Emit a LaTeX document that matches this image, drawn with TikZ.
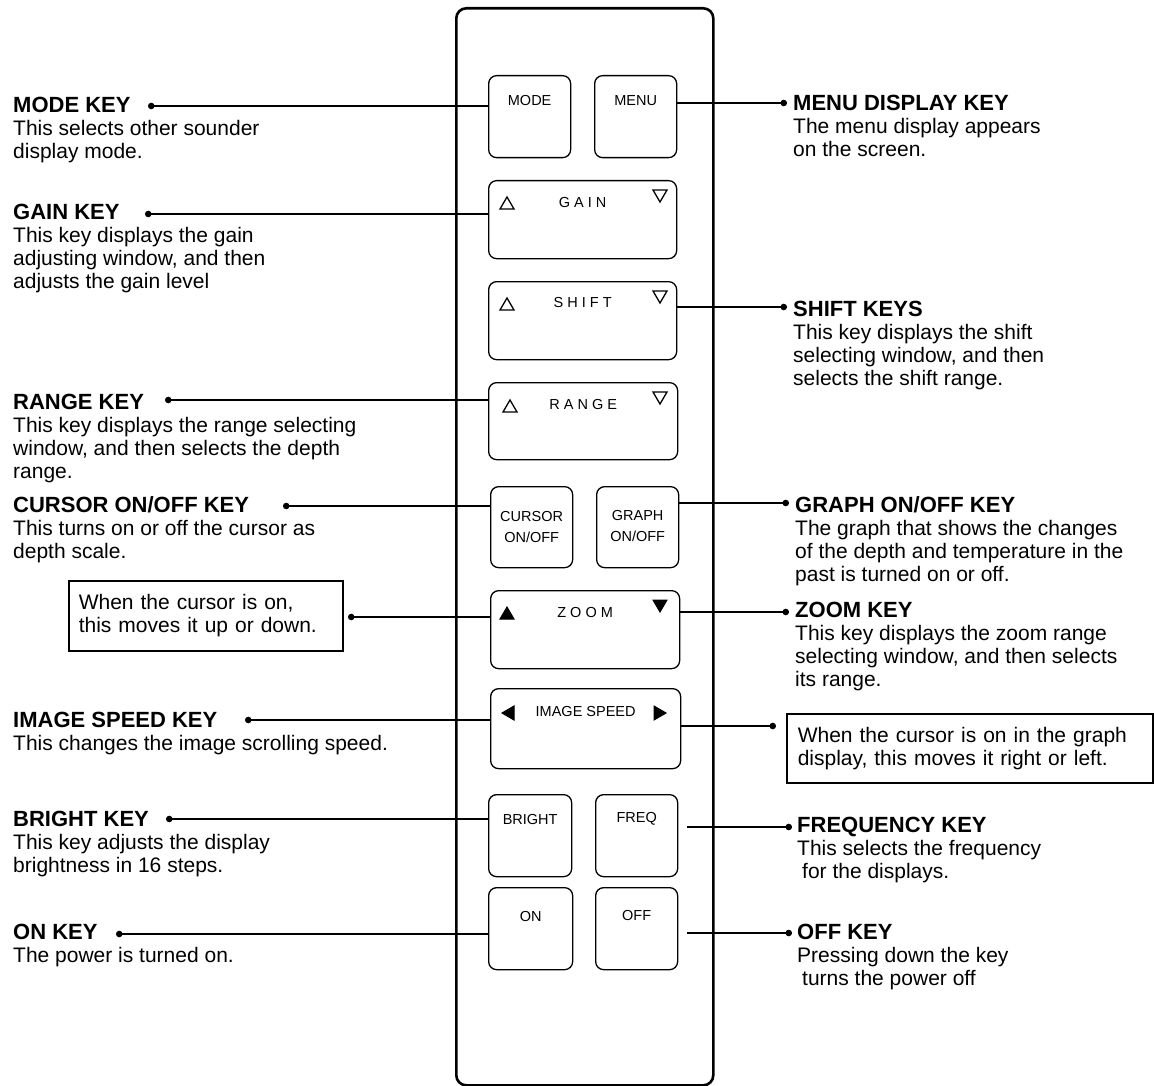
\documentclass[tikz,border=0pt]{standalone}
\usepackage{fontspec}
\setmainfont{Liberation Sans}
\usetikzlibrary{arrows.meta}

\newcommand\hd[1]{{\fontsize{22}{23}\selectfont\bfseries #1}}

\tikzset{
	pad/.style={draw, rounded corners=8pt, line width=1.3pt, anchor=north west, inner sep=0pt},
	keylbl/.style={font=\fontsize{14.5}{21}\selectfont, inner sep=0pt, align=center},
	note/.style={anchor=north west, align=left, inner sep=0pt, font=\fontsize{21}{23}\selectfont},
	hint/.style={draw, line width=1.5pt, anchor=north west, inner ysep=0pt, align=left, font=\fontsize{21}{23}\selectfont},
	lead/.style={line width=1.3pt, {Circle[length=6.5pt,width=6.5pt]}-},
	leadr/.style={line width=1.3pt, -{Circle[length=6.5pt,width=6.5pt]}},
	tri/.pic={\draw[line width=1.3pt] (-7,6) -- (7,6) -- (0,-6) -- cycle;},
	trif/.pic={\filldraw[line width=1pt] (-7,6) -- (7,6) -- (0,-6) -- cycle;}
}

\begin{document}
\begin{tikzpicture}[x=1pt, y=-1pt]
	\useasboundingbox (0,0) rectangle (1154,1086);

	\node[draw, rounded corners=10pt, line width=2.6pt, anchor=north west, inner sep=0pt, minimum width=257pt, minimum height=1077pt] (remote) at (455,7) {};

	\node[pad, minimum width=82pt, minimum height=82pt] (mode) at (488,75) {};
	\node[pad, minimum width=82pt, minimum height=82pt] (menu) at (594,75) {};
	\node[pad, minimum width=188pt, minimum height=78pt] (gain) at (488,180) {};
	\node[pad, minimum width=188pt, minimum height=78pt] (shift) at (488,281) {};
	\node[pad, minimum width=189pt, minimum height=77pt] (range) at (488,382) {};
	\node[pad, minimum width=82pt, minimum height=81pt] (cursor) at (490,486) {};
	\node[pad, minimum width=82pt, minimum height=81pt] (graph) at (596,486) {};
	\node[pad, minimum width=189pt, minimum height=78pt] (zoom) at (490,590) {};
	\node[pad, minimum width=190pt, minimum height=80pt] (imgspd) at (490,688) {};
	\node[pad, minimum width=83pt, minimum height=82pt] (bright) at (488,794) {};
	\node[pad, minimum width=82pt, minimum height=82pt] (freq) at (595,794) {};
	\node[pad, minimum width=84pt, minimum height=82pt] (on) at (488,887) {};
	\node[pad, minimum width=82pt, minimum height=82pt] (off) at (595,887) {};

	\node[keylbl] (modelbl) at ([yshift=-26pt]mode.north) {MODE};
	\node[keylbl] (menulbl) at ([yshift=-26pt]menu.north) {MENU};
	\node[keylbl] (gainlbl) at ([yshift=-23pt]gain.north) {G A I N};
	\node[keylbl] (shiftlbl) at ([yshift=-22pt]shift.north) {S H I F T};
	\node[keylbl] (rangelbl) at ([yshift=-23pt]range.north) {R A N G E};
	\node[keylbl] (cursorlbl) at ([yshift=-41pt]cursor.north) {CURSOR\\ON/OFF};
	\node[keylbl] (graphlbl) at ([yshift=-40pt]graph.north) {GRAPH\\ON/OFF};
	\node[keylbl] (zoomlbl) at ([yshift=-23pt]zoom.north) {Z O O M};
	\node[keylbl] (imgspdlbl) at ([yshift=-24pt]imgspd.north) {IMAGE SPEED};
	\node[keylbl] (brightlbl) at ([yshift=-26pt]bright.north) {BRIGHT};
	\node[keylbl] (freqlbl) at ([yshift=-25pt]freq.north) {FREQ};
	\node[keylbl] (onlbl) at ([yshift=-30pt]on.north) {ON};
	\node[keylbl] (offlbl) at ([yshift=-29pt]off.north) {OFF};

	\pic at ([shift={(19,23)}]gain.north west) {tri};
	\pic[rotate=180] at ([shift={(172,16)}]gain.north west) {tri};
	\pic at ([shift={(19,23)}]shift.north west) {tri};
	\pic[rotate=180] at ([shift={(172,16)}]shift.north west) {tri};
	\pic at ([shift={(22,24)}]range.north west) {tri};
	\pic[rotate=180] at ([shift={(172,16)}]range.north west) {tri};
	\pic at ([shift={(17,23)}]zoom.north west) {trif};
	\pic[rotate=180] at ([shift={(170,16)}]zoom.north west) {trif};
	\pic[rotate=90] at ([shift={(18,25)}]imgspd.north west) {trif};
	\pic[rotate=-90] at ([shift={(170,25)}]imgspd.north west) {trif};

	\node[note] (modetxt) at (13,97) {\hd{MODE KEY}\\This selects other sounder\\display mode.};
	\node[note] (gaintxt) at (13,204) {\hd{GAIN KEY}\\This key displays the gain\\adjusting window, and then\\adjusts the gain level};
	\node[note] (rangetxt) at (13,394) {\hd{RANGE KEY}\\This key displays the range selecting\\window, and then selects the depth\\range.};
	\node[note] (cursortxt) at (13,496) {\hd{CURSOR ON/OFF KEY}\\This turns on or off the cursor as\\depth scale.};
	\node[hint, inner xsep=10pt, text width=254pt, minimum height=70pt] (updown) at (68,580) {When the cursor is on,\\this moves it up or down.};
	\node[note] (imgtxt) at (13,712) {\hd{IMAGE SPEED KEY}\\This changes the image scrolling speed.};
	\node[note] (brighttxt) at (13,811) {\hd{BRIGHT KEY}\\This key adjusts the display\\brightness in 16 steps.};
	\node[note] (ontxt) at (13,924) {\hd{ON KEY}\\The power is turned on.};

	\node[note] (menutxt) at (793,95) {\hd{MENU DISPLAY KEY}\\The menu display appears\\on the screen.};
	\node[note] (shifttxt) at (793,301) {\hd{SHIFT KEYS}\\This key displays the shift\\selecting window, and then\\selects the shift range.};
	\node[note] (graphtxt) at (795,496) {\hd{GRAPH ON/OFF KEY}\\The graph that shows the changes\\of the depth and temperature in the\\past is turned on or off.};
	\node[note] (zoomtxt) at (795,602) {\hd{ZOOM KEY}\\This key displays the zoom range\\selecting window, and then selects\\its range.};
	\node[hint, inner xsep=11pt, text width=344pt, minimum height=69pt] (leftright) at (786,713) {When the cursor is on in the graph\\display, this moves it right or left.};
	\node[note] (freqtxt) at (797,817) {\hd{FREQUENCY KEY}\\This selects the frequency\\\hspace*{5pt}for the displays.};
	\node[note] (offtxt) at (797,924) {\hd{OFF KEY}\\Pressing down the key\\\hspace*{5pt}turns the power off};

	\coordinate (modedot) at (148,106);
	\coordinate (gaindot) at (145,214);
	\coordinate (rangedot) at (165,400);
	\coordinate (cursordot) at (283,506);
	\coordinate (updot) at (348,617);
	\coordinate (imgdot) at (245,720);
	\coordinate (brightdot) at (166,819);
	\coordinate (ondot) at (116,934);
	\coordinate (menudot) at (787,103);
	\coordinate (shiftdot) at (787,307);
	\coordinate (graphdot) at (789,503);
	\coordinate (zoomdot) at (789,612);
	\coordinate (lrdot) at (776,726);
	\coordinate (freqdot) at (792,827);
	\coordinate (offdot) at (792,933);

	\draw[lead] (modedot) -- (modedot -| mode.west);
	\draw[lead] (gaindot) -- (gaindot -| gain.west);
	\draw[lead] (rangedot) -- (rangedot -| range.west);
	\draw[lead] (cursordot) -- (cursordot -| cursor.west);
	\draw[lead] (updot) -- (updot -| zoom.west);
	\draw[lead] (imgdot) -- (imgdot -| imgspd.west);
	\draw[lead] (brightdot) -- (brightdot -| bright.west);
	\draw[lead] (ondot) -- (ondot -| on.west);
	\draw[leadr] (menu.east |- menudot) -- (menudot);
	\draw[leadr] (shift.east |- shiftdot) -- (shiftdot);
	\draw[leadr] (graph.east |- graphdot) -- (graphdot);
	\draw[leadr] (zoom.east |- zoomdot) -- (zoomdot);
	\draw[leadr] (imgspd.east |- lrdot) -- (lrdot);
	\draw[leadr, shorten <=9pt] (freq.east |- freqdot) -- (freqdot);
	\draw[leadr, shorten <=9pt] (off.east |- offdot) -- (offdot);
\end{tikzpicture}
\end{document}
